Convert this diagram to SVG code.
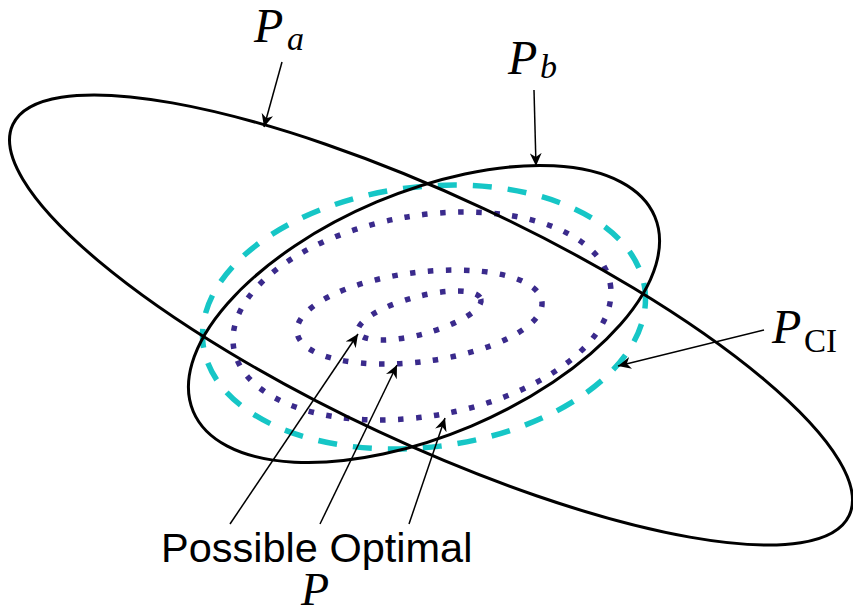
<svg xmlns="http://www.w3.org/2000/svg" width="853" height="614" viewBox="0 0 853 614">
<style>
.bk{fill:none;stroke:#000;stroke-width:3}
.ci{fill:none;stroke:#16c6c6;stroke-width:5.5;stroke-dasharray:19 16}
.dt{fill:none;stroke:#3a2a8c;stroke-width:5.5;stroke-dasharray:5.5 12.5}
.ar{fill:none;stroke:#000;stroke-width:1.5;marker-end:url(#ah)}
.m{font-family:"Liberation Serif","DejaVu Serif",serif;font-style:italic;font-size:48px;fill:#000}
.s{font-family:"Liberation Serif","DejaVu Serif",serif;font-style:italic;font-size:34px;fill:#000}
.u{font-family:"Liberation Serif","DejaVu Serif",serif;font-size:33px;fill:#000}
.t{font-family:"Liberation Sans",Arial,sans-serif;font-size:41.5px;fill:#000}
</style>
<defs>
<marker id="ah" markerUnits="userSpaceOnUse" markerWidth="14" markerHeight="12" refX="13" refY="6" orient="auto" viewBox="0 0 14 12">
<path d="M13,6 L0,0 L4,6 L0,12 Z" fill="#000"/>
</marker>
</defs>
<g id="P_CI_ellipse"><ellipse class="ci" cx="424" cy="317" rx="222.6" ry="130.1" transform="rotate(-7.07 424 317)"/></g>
<g id="P_opt_outer"><ellipse class="dt" cx="422" cy="316" rx="191" ry="100.2" transform="rotate(-9.8 422 316)"/></g>
<g id="P_opt_middle"><ellipse class="dt" cx="419.5" cy="317" rx="123.4" ry="44.7" transform="rotate(-7.25 419.5 317)"/></g>
<g id="P_opt_inner"><ellipse class="dt" cx="419.5" cy="315.5" rx="63.5" ry="18.8" transform="rotate(-15 419.5 315.5)"/></g>
<g id="P_a_ellipse"><ellipse class="bk" cx="431" cy="320" rx="461.6" ry="123.3" transform="rotate(25.04 431 320)"/></g>
<g id="P_b_ellipse"><ellipse class="bk" cx="424" cy="314" rx="250.5" ry="121.6" transform="rotate(-22.9 424 314)"/></g>
<g id="connectors">
<line class="ar" x1="282" y1="62" x2="264" y2="127"/>
<line class="ar" x1="534" y1="90" x2="536" y2="166"/>
<line class="ar" x1="764" y1="330" x2="618" y2="366"/>
<line class="ar" x1="230" y1="524" x2="358" y2="334"/>
<line class="ar" x1="320" y1="524" x2="397" y2="365"/>
<line class="ar" x1="409" y1="524" x2="445" y2="418"/>
</g>
<g id="label_Pa"><text class="m" x="254" y="42">P</text><text class="s" x="287" y="50">a</text></g>
<g id="label_Pb"><text class="m" x="508" y="74">P</text><text class="s" x="540" y="78">b</text></g>
<g id="label_PCI"><text class="m" x="772" y="343">P</text><text class="u" x="804" y="352">CI</text></g>
<g id="label_possible"><text class="t" x="161" y="562">Possible Optimal</text><text class="m" x="301" y="605" style="font-size:46px">P</text></g>
</svg>
